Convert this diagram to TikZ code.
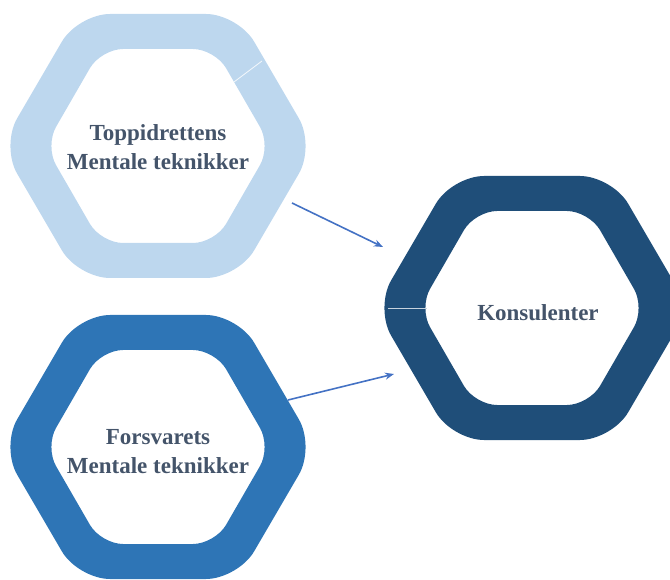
\documentclass[tikz,border=0pt]{standalone}
\usepackage{fontspec}
\setmainfont{Liberation Serif}
\usetikzlibrary{arrows.meta}

\definecolor{lysblaa}{HTML}{BDD7EE}
\definecolor{mellomblaa}{HTML}{2E75B6}
\definecolor{moerkblaa}{HTML}{1F4E79}
\definecolor{tekstgraa}{HTML}{44546A}
\definecolor{pilblaa}{HTML}{4472C4}

\begin{document}
\begin{tikzpicture}[x=1pt, y=-1pt,
	tekst/.style={align=center, text=tekstgraa, font=\fontsize{23}{29}\selectfont\bfseries},
	pil/.style={-{Stealth[length=9pt, width=7pt]}, color=pilblaa, line width=1.6pt}]

	\clip (0,0) rectangle (670,580);
	\useasboundingbox (0,0) rectangle (670,580);

	% HEXAGONRINGER
	\foreach \cx/\cy/\farge in {158/146/lysblaa, 158/447/mellomblaa, 532/308/moerkblaa}{
		\fill[\farge, even odd rule, shift={(\cx,\cy)}]
			[rounded corners=32pt] (0,-132) -- (80,-132) -- (157,0) -- (80,132) -- (-80,132) -- (-157,0) -- (-80,-132) -- cycle
			[rounded corners=22pt] (0,-97) -- (57,-97) -- (113,0) -- (57,97) -- (-57,97) -- (-113,0) -- (-57,-97) -- cycle;
	}

	% skjoeter
	\draw[white!85!lysblaa, line width=0.8pt] (234,82) -- (262,61);
	\draw[white!75!moerkblaa, line width=0.8pt] (388,308) -- (427,308);

	% TEKST
	\node[tekst, anchor=center] (toppi) at (158,147) {Toppidrettens\\Mentale teknikker};
	\node[tekst, anchor=center] (forsv) at (158,452) {Forsvarets\\Mentale teknikker};
	\node[tekst, anchor=center] (konsu) at (538,313) {Konsulenter};

	% PILER
	\coordinate (toppiut) at ([shift={(134,56)}]toppi.center);
	\coordinate (forsvut) at ([shift={(130,-52)}]forsv.center);
	\coordinate (konsuinn1) at ([shift={(-155,-66)}]konsu.center);
	\coordinate (konsuinn2) at ([shift={(-144,61)}]konsu.center);

	\draw[pil] (toppiut) -- (konsuinn1);
	\draw[pil] (forsvut) -- (konsuinn2);

\end{tikzpicture}
\end{document}
